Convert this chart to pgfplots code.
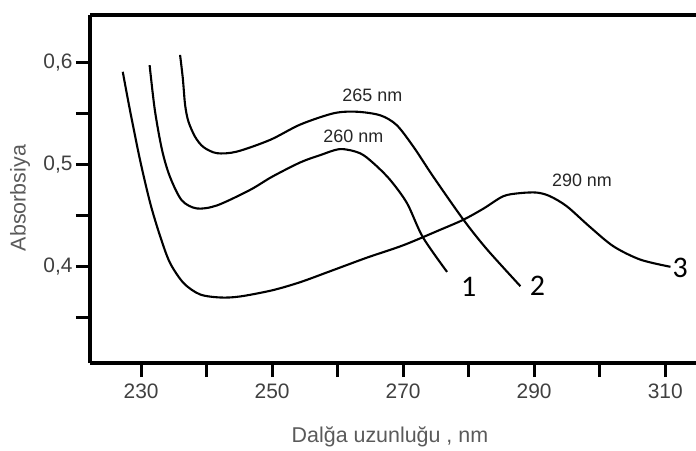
\documentclass[border=0pt]{standalone}
\usepackage{fontspec}
\setmainfont{Liberation Sans}
\newfontfamily\calib{Carlito}
\usepackage{pgfplots}
\pgfplotsset{compat=1.18}

\definecolor{ticktext}{HTML}{404040}
\definecolor{labeltext}{HTML}{5A5A5A}
\newcommand{\tl}[1]{\mbox{\fontsize{21}{21}\selectfont\color{ticktext}#1}}

\begin{document}
\begin{tikzpicture}
\begin{axis}[
    name=ax,
    scale only axis,
    width=606bp, height=348bp,
    xmin=222.2, xmax=314.7,
    ymin=0.306, ymax=0.646,
    axis lines=left,
    axis line style={-, line width=3.5bp},
    xtick={230,240,250,260,270,280,290,300,310},
    xticklabels={\tl{230},,\tl{250},,\tl{270},,\tl{290},,\tl{310}},
    xticklabel style={yshift=-3bp},
    ytick={0.35,0.4,0.45,0.5,0.55,0.6},
    yticklabels={,\tl{0,4},,\tl{0,5},,\tl{0,6}},
    tick align=outside,
    major tick length=14bp,
    tick style={line width=3bp, black},
    every axis x label/.style={at={(axis description cs:0.495,0)}, anchor=center, yshift=-74bp},
    every axis y label/.style={at={(axis description cs:-0.1155,0.474)}, anchor=center, rotate=90},
    label style={font=\fontsize{21.5}{21.5}\selectfont, text=labeltext},
    xlabel={Dalğa uzunluğu , nm},
    ylabel={Absorbsiya},
    clip=false,
]
% top border (the right one is cut off in the reference)
\draw[line width=3.5bp] (rel axis cs:0,1) -- (rel axis cs:1,1);

% --- 1: peak at 260 nm ---
\addplot[smooth, line width=2.1bp, black] coordinates {
    (231.3,0.597) (232.1,0.553) (233.2,0.514) (234.4,0.488) (236.2,0.465)
    (238.5,0.457) (241.6,0.460) (246.6,0.475) (250.0,0.488) (254.3,0.502)
    (257.3,0.509) (260.4,0.515) (263.4,0.511) (265.5,0.501) (268.0,0.485)
    (270.6,0.462) (273.0,0.429) (276.7,0.395)
};

% --- 2: peak at 265 nm ---
\addplot[smooth, line width=2.1bp, black] coordinates {
    (235.95,0.607) (236.37,0.584) (236.72,0.558) (237.22,0.542) (238.24,0.527)
    (239.51,0.517) (241.56,0.511) (244.6,0.5125) (249.7,0.524) (254.3,0.539)
    (259.4,0.550) (262.9,0.5515) (266.5,0.548) (269.0,0.5385) (271.6,0.517)
    (274.6,0.488) (279.2,0.446) (282.8,0.417) (287.9,0.381)
};

% --- 3: peak at 290 nm ---
\addplot[smooth, line width=2.1bp, black] coordinates {
    (227.2,0.5905) (228.3,0.553) (229.85,0.504) (231.4,0.462) (232.9,0.430)
    (234.4,0.404) (236.5,0.384) (239.0,0.373) (242.1,0.370) (245.1,0.371)
    (250.0,0.377) (254.3,0.385) (259.0,0.396) (264.5,0.409) (270.0,0.421)
    (275.6,0.436) (279.2,0.446) (282.3,0.457) (285.3,0.469) (287.9,0.472)
    (290.4,0.4725) (292.4,0.469) (295.0,0.459) (298.5,0.439) (302.1,0.420)
    (306.2,0.407) (310.8,0.400)
};

\node[font=\fontsize{18}{18}\selectfont, text=black!85] at (axis cs:265.3,0.568) {265 nm};
\node[font=\fontsize{18}{18}\selectfont, text=black!85] at (axis cs:262.4,0.527) {260 nm};
\node[font=\fontsize{18}{18}\selectfont, text=black!85] at (axis cs:297.3,0.484) {290 nm};
\node[font=\calib\fontsize{30}{30}\selectfont] at (axis cs:280.0,0.380) {1};
\node[font=\calib\fontsize{30}{30}\selectfont] at (axis cs:290.5,0.381) {2};
\node[font=\calib\fontsize{30}{30}\selectfont] at (axis cs:312.3,0.399) {3};
\end{axis}
\pgfresetboundingbox
\path (ax.south west) ++(-90bp,-88bp) rectangle ++(696bp,451bp);
\end{tikzpicture}
\end{document}
